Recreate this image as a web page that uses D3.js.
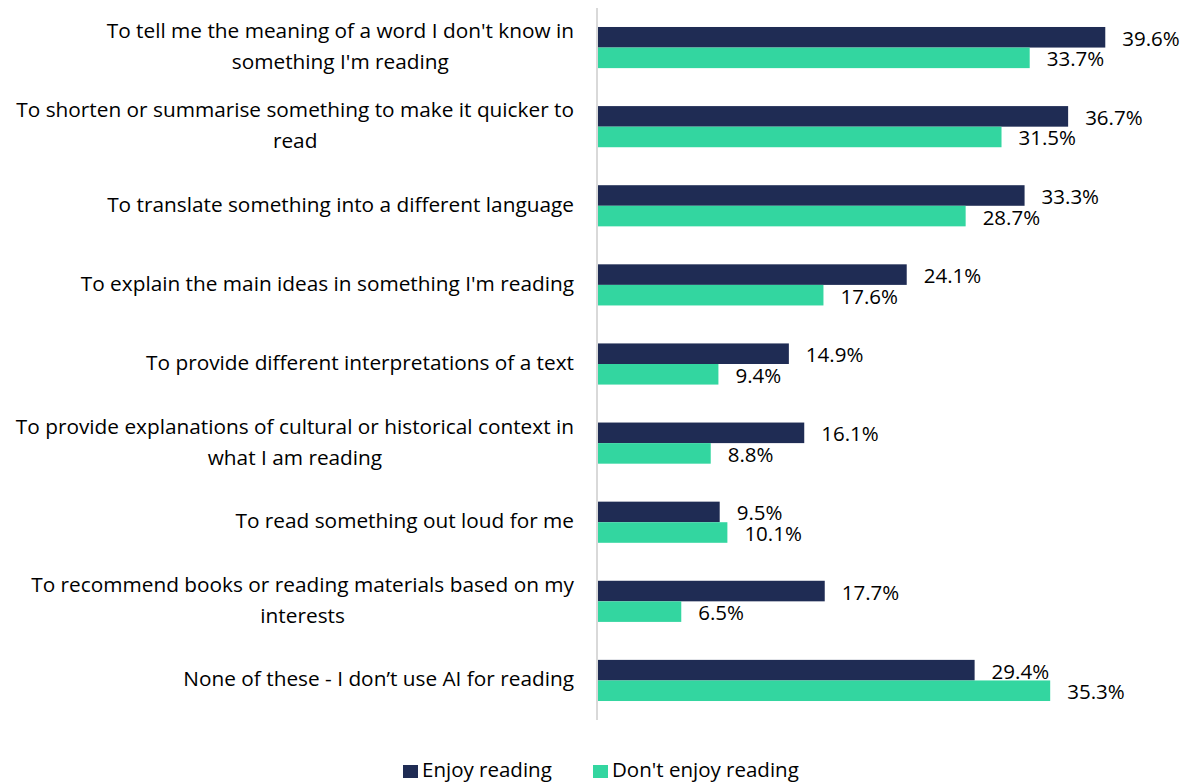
<!DOCTYPE html>
<html>
<head>
<meta charset="utf-8">
<script src="https://cdn.jsdelivr.net/npm/d3@7"></script>
<style>
  body { margin: 0; background: #fff; }
  text { font-family: "Open Sans", sans-serif; fill: #000; }
  text.val { font-family: "Liberation Sans Narrow", "Open Sans", sans-serif; }
</style>
</head>
<body>
<svg id="chart" width="1187" height="782"></svg>
<script>
var categories = [
  ["To tell me the meaning of a word I don't know in", "something I'm reading"],
  ["To shorten or summarise something to make it quicker to", "read"],
  ["To translate something into a different language"],
  ["To explain the main ideas in something I'm reading"],
  ["To provide different interpretations of a text"],
  ["To provide explanations of cultural or historical context in", "what I am reading"],
  ["To read something out loud for me"],
  ["To recommend books or reading materials based on my", "interests"],
  ["None of these - I don\u2019t use AI for reading"]
];
var seriesNames = ["Enjoy reading", "Don't enjoy reading"];
var enjoy = [39.6, 36.7, 33.3, 24.1, 14.9, 16.1, 9.5, 17.7, 29.4];
var dontEnjoy = [33.7, 31.5, 28.7, 17.6, 9.4, 8.8, 10.1, 6.5, 35.3];
var colors = ["#1f2c54", "#33d6a0"];

var svg = d3.select("#chart");
var fontSize = 20.8;

var x = d3.scaleLinear().domain([0, 40]).range([598, 1110.4]);

var y = d3.scaleBand()
  .domain(d3.range(categories.length))
  .range([8, 720])
  .paddingInner(0.48)
  .paddingOuter(0.24);

var ySub = d3.scaleBand()
  .domain([0, 1])
  .range([0, y.bandwidth()]);

// axis line
svg.append("line")
  .attr("x1", 597).attr("x2", 597)
  .attr("y1", 8).attr("y2", 720)
  .style("stroke", "#d9d9d9")
  .style("stroke-width", 2);

var rows = categories.map(function(c, i) {
  return { i: i, lines: c, values: [enjoy[i], dontEnjoy[i]] };
});

var groups = svg.selectAll(".grp")
  .data(rows)
  .enter()
  .append("g")
  .attr("class", "grp")
  .attr("transform", function(d) { return "translate(0," + y(d.i) + ")"; });

groups.selectAll("rect")
  .data(function(d) { return d.values; })
  .enter()
  .append("rect")
  .attr("x", x(0))
  .attr("y", function(d, j) { return ySub(j); })
  .attr("width", function(d) { return x(d) - x(0); })
  .attr("height", ySub.bandwidth())
  .attr("fill", function(d, j) { return colors[j]; });

// value labels (baseline a bit below bar centre)
var vals = groups.selectAll(".val")
  .data(function(d) { return d.values; })
  .enter()
  .append("text")
  .attr("class", "val")
  .attr("x", function(d) { return x(d) + 17; })
  .attr("y", function(d, j) { return ySub(j) + ySub.bandwidth() / 2 + 8.5; })
  .style("font-size", "20.5px")
  .text(function(d) { return d.toFixed(1) + "%"; });

// if the narrow font is missing, the fallback is too wide: shrink it
var testW = vals.node().getComputedTextLength();
if (testW > 62) {
  vals.style("font-size", "18.5px");
}

// category labels
var labelRight = 574;
groups.each(function(d) {
  var g = d3.select(this);
  var lab = g.append("text")
    .style("font-size", fontSize + "px")
    .attr("text-anchor", "middle");
  var mid = y.bandwidth() / 2 + 6;
  var n = d.lines.length;
  d.lines.forEach(function(line, k) {
    lab.append("tspan")
      .attr("y", mid + (k - (n - 1) / 2) * 31)
      .text(line);
  });
  var w = 0;
  lab.selectAll("tspan").each(function() {
    w = Math.max(w, this.getComputedTextLength());
  });
  lab.selectAll("tspan").attr("x", labelRight - w / 2);
});

// legend
var legendX = [403, 593];
var legend = svg.selectAll(".leg")
  .data(seriesNames)
  .enter()
  .append("g")
  .attr("class", "leg")
  .attr("transform", function(d, i) { return "translate(" + legendX[i] + ",765)"; });

legend.append("rect")
  .attr("width", 15).attr("height", 13)
  .attr("fill", function(d, i) { return colors[i]; });

legend.append("text")
  .attr("x", 19)
  .attr("y", 12)
  .style("font-size", "20.5px")
  .text(function(d) { return d; });
</script>
</body>
</html>
